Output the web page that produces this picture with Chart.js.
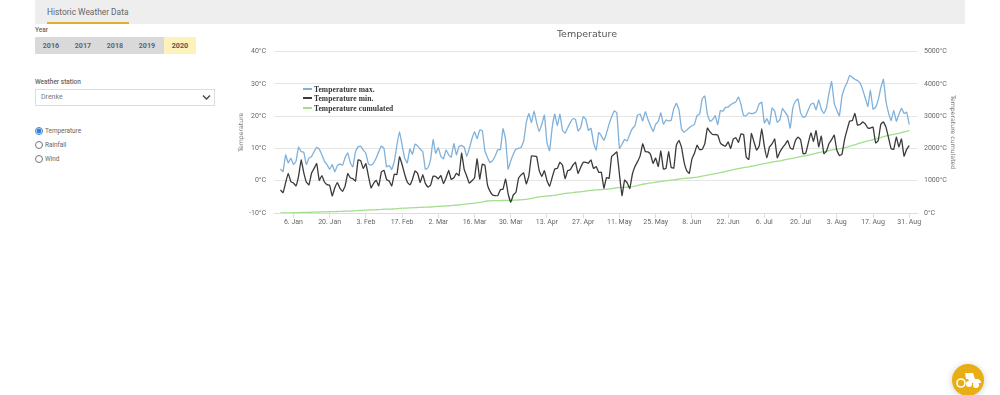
<!DOCTYPE html>
<html>
<head>
<meta charset="utf-8">
<title>Historic Weather Data</title>
<script src="https://cdn.jsdelivr.net/npm/chart.js@4"></script>
<style>
  html, body { margin: 0; padding: 0; background: #fff; overflow: hidden; }
  body { width: 1000px; height: 395px; position: relative; font-family: Roboto, sans-serif; color: #555; }
  #tabbar { position: absolute; left: 35px; top: 0; width: 930px; height: 24px; background: #eee; }
  #tab { position: absolute; left: 47px; top: 7px; font-size: 8.4px; color: #666; white-space: nowrap; }
  #tabline { position: absolute; left: 47px; top: 22px; width: 82px; height: 2px; background: #dcae32; }
  .label { position: absolute; left: 35px; font-size: 6.5px; font-weight: 500; color: #666; }
  #years { position: absolute; left: 35px; top: 37px; width: 161px; height: 16.5px; background: #d9d9d9; border-radius: 1px; }
  .year { position: absolute; top: 0; width: 32px; height: 16.5px; line-height: 17px; text-align: center; font-size: 7.2px; font-weight: 700; color: #666; }
  .year.on { background: #fbf3bb; color: #555; }
  #station { position: absolute; left: 35px; top: 89px; width: 178px; height: 15px; border: 1px solid #ddd; font-size: 7px; line-height: 15px; color: #777; text-indent: 5px; }
  #station svg { position: absolute; right: 3px; top: 4px; }
  .radio { position: absolute; left: 35px; width: 8px; height: 8px; margin: 0; accent-color: #2f80d8; }
  .radiotext { position: absolute; left: 45px; font-size: 6.4px; color: #666; }
  #chart { position: absolute; left: 0; top: 0; }
  #title { position: absolute; left: 487px; top: 28px; width: 200px; text-align: center; font-family: "DejaVu Sans", sans-serif; font-size: 9.5px; color: #555; }
  #legend { position: absolute; left: 298px; top: 84px; width: 96px; height: 29px; background: #fff; }
  .row { position: absolute; left: 5px; height: 9px; line-height: 9px; font-family: "Liberation Serif", serif; font-size: 7.5px; font-weight: 700; letter-spacing: 0.1px; color: #333; white-space: nowrap; }
  .row i { display: inline-block; width: 9px; height: 2px; margin-right: 2px; vertical-align: 2px; }
  #fab { position: absolute; left: 952px; top: 364px; overflow: visible; filter: drop-shadow(0 1px 3px rgba(0,0,0,.2)); }
</style>
</head>
<body>
<div id="tabbar"></div>
<div id="tab">Historic Weather Data</div>
<div id="tabline"></div>

<div class="label" style="top:26px">Year</div>
<div id="years"></div>

<div class="label" style="top:78px">Weather station</div>
<div id="station">Drenke
  <svg width="9" height="7" viewBox="0 0 9 7"><path d="M1 1.5 L4.5 5 L8 1.5" fill="none" stroke="#444" stroke-width="1.3"/></svg>
</div>

<input class="radio" type="radio" name="kind" style="top:127px" checked>
<div class="radiotext" style="top:127px">Temperature</div>
<input class="radio" type="radio" name="kind" style="top:141px">
<div class="radiotext" style="top:141px">Rainfall</div>
<input class="radio" type="radio" name="kind" style="top:155px">
<div class="radiotext" style="top:155px">Wind</div>

<canvas id="chart" width="1000" height="395"></canvas>
<div id="title">Temperature</div>
<div id="legend"></div>

<svg id="fab" width="34" height="34" viewBox="0 0 34 34">
  <circle cx="16" cy="16" r="16" fill="#e8ae14"/>
  <path d="M13 9 H21 L23 15 H26 Q29 16 29 19 H18 L16 15 H14 Z" fill="#fff"/>
  <circle cx="9" cy="19" r="4" fill="none" stroke="#fff" stroke-width="1.6"/>
  <circle cx="24" cy="21" r="3" fill="#fff"/>
  <circle cx="17" cy="20" r="3" fill="#fff"/>
</svg>

<script>
const years = ["2016", "2017", "2018", "2019", "2020"];
const selectedYear = "2020";

// day number counted from 1 Jan, tick labels are every second Monday
const tickDays = [5, 19, 33, 47, 61, 75, 89, 103, 117, 131, 145, 159, 173, 187, 201, 215, 229, 243];
const tickLabels = ["6. Jan", "20. Jan", "3. Feb", "17. Feb", "2. Mar", "16. Mar", "30. Mar", "13. Apr", "27. Apr", "11. May", "25. May", "8. Jun", "22. Jun", "6. Jul", "20. Jul", "3. Aug", "17. Aug", "31. Aug"];

const seriesNames = ["Temperature max.", "Temperature min.", "Temperature cumulated"];
const seriesColors = ["#7fb1db", "#3a3a3a", "#a3df8e"];

const tempMax = [
  3.6, 2.8, 8, 5.5, 7, 5, 6, 10.4, 9, 8.8,
  5, 7, 7.5, 9, 10.3, 9.8, 8, 6, 5, 3.5,
  5, 2.7, 4.7, 5.2, 4.8, 7.2, 8.6, 5.5, 4.3, 9,
  10.5, 10.7, 9.5, 8.5, 5.2, 4.8, 5.5, 7, 9, 10.7,
  10, 4.3, 4.7, 3.5, 6, 11, 15.2, 11, 7, 5.5,
  9.8, 8.2, 11.3, 10.8, 9.8, 9, 3.5, 4, 6.5, 12.7,
  8.5, 10.2, 7.5, 6.8, 9.5, 8, 7.3, 11.5, 8, 10.6,
  10.9, 10.4, 7.5, 10, 13, 15.2, 13, 15.7, 15.5, 9.3,
  7.2, 5.6, 6.2, 7.7, 9.6, 9.6, 16.1, 12.8, 3.6, 6.2,
  8.2, 9.8, 10, 10.3, 12.3, 18, 20.8, 18, 21.6, 18,
  15.2, 17.5, 20.3, 11.8, 9.3, 16.4, 20.6, 17, 20.6, 15.6,
  14.7, 16.4, 18, 19.2, 19, 15.4, 16.4, 19.8, 19, 15.6,
  16.2, 11.8, 9.5, 14.9, 13.9, 12.5, 14.7, 17.5, 19.8, 21.6,
  21, 10, 11.3, 12.8, 12.3, 14.4, 16.1, 17, 20.3, 20.6,
  18.5, 21.4, 19, 17, 15.2, 17.5, 18.3, 21, 17.5, 18.8,
  18.5, 18.7, 22.3, 24, 22, 16, 15, 15.7, 16.4, 17,
  17.5, 20.2, 20.6, 25.4, 26.2, 20.5, 18.4, 18.9, 20.1, 17.4,
  21.7, 21.5, 22.7, 22.8, 23.5, 24, 24.4, 25.9, 23.5, 20.1,
  20.1, 21, 20.8, 20.9, 21.5, 23.8, 24.3, 17.9, 19.2, 17.4,
  22.5, 21.5, 18.1, 18.9, 22.3, 21.2, 20.1, 16.3, 22.5, 24.6,
  25.3, 21, 19.6, 20, 22, 23.7, 24, 22, 25, 22.2,
  20.8, 22.5, 27.1, 30.7, 24, 21.8, 20.1, 26.1, 28.7, 30.4,
  32.6, 32, 31.4, 31, 30.2, 28.2, 25.6, 23, 28, 22.2,
  22.7, 25, 28.7, 31.4, 24.6, 21, 18.6, 21.8, 18.4, 20.5,
  22.5, 20.8, 21.2, 17.4
];

const tempMin = [
  -2.9, -3.7, -0.6, 2.3, -0.3, -0.7, -1.6, 1.4, 6.4, 2.5,
  -0.4, -1.3, 2.3, 3.8, 5.3, 0.1, 1.6, -0.4, -1.2, -1.4,
  -4.7, -2.2, -0.6, -2.4, -3.3, -1.6, 2.2, 0.9, 0.6, -0.1,
  6.4, 6.2, 3.8, 5.3, 1.4, -2.2, -0.8, 0.1, -1.6, 2.7,
  3.2, 0.4, -0.1, -1.6, 2, 1.9, 7.4, 5, 2, -0.4,
  -1.3, 0.4, 3, 2.3, -0.6, 1.9, -0.9, -2, -1.4, 1.4,
  1.3, 0.6, 1.6, -0.9, 0.9, 3.2, 0.4, 0.9, 2.3, 1.6,
  8.5, 3.5, 1.4, -0.8, 0, 0.9, 6.8, 0.5, 5.1, 4.8,
  -1.3, -3.3, -4.4, -4.6, -4.6, -2.8, -2.6, 0.5, -4.1, -6.7,
  -4.4, -3.6, 0.7, 1.8, 2.4, -1, 1.5, 7.7, 7.6, 7.5,
  3.1, 1.3, 3.1, 0, -1.7, 1, 3.6, 3.8, 5.7, 4.8,
  0.7, 3.1, 3.4, 4.8, 5.7, 2.3, 4.1, 5.7, 5.7, 5.4,
  6.4, 3.8, 4.4, 2.6, 2.6, -2.3, 1, 0.7, 7.5, 8.2,
  8.9, 2, -4.6, 0.2, -0.7, -2.4, 2, 4.4, 5.9, 7.7,
  11.4, 9, 8.9, 8.2, 5.4, 7, 4.4, 9.2, 3.6, 3.8,
  9, 4.1, 3.9, 11, 12.5, 10.3, 5.7, 3.1, 2.3, 6.7,
  8.5, 11, 9.6, 9.7, 11.5, 16.3, 15.1, 14.3, 14.3, 14.1,
  11.7, 11, 10.7, 12, 10, 12.9, 13.3, 11.9, 14.5, 14.3,
  7.3, 6.6, 14.6, 12, 9.5, 10.7, 16.1, 10.7, 7.1, 10.5,
  11.4, 12.9, 7.1, 8.9, 10.2, 11.2, 12.4, 10.2, 9.7, 12.4,
  13.5, 12.7, 8.3, 8.5, 11.7, 14.8, 12.2, 15.5, 10.5, 13.8,
  8.4, 9.1, 11.5, 12.7, 14.1, 9.5, 7.8, 8.2, 12.7, 15.8,
  18.5, 18.6, 20.8, 17.2, 17.4, 18.2, 17.6, 16.3, 16.3, 16.6,
  11.7, 12.4, 17.4, 18.2, 16.6, 13.3, 9.9, 9.7, 13.5, 10.5,
  12.9, 7.6, 9.7, 10.9
];

const tempCumulated = [
  0, 1, 3, 5, 6, 8, 10, 12, 15, 18,
  20, 21, 23, 26, 29, 31, 33, 35, 37, 39,
  42, 44, 47, 50, 53, 55, 58, 61, 64, 68,
  74, 80, 84, 89, 92, 94, 97, 100, 104, 110,
  116, 119, 121, 122, 125, 131, 141, 148, 152, 154,
  158, 161, 166, 171, 175, 178, 180, 182, 186, 192,
  200, 205, 210, 214, 219, 225, 231, 237, 244, 252,
  262, 272, 280, 288, 296, 305, 318, 328, 345, 360,
  372, 378, 381, 383, 385, 386, 387, 389, 391, 393,
  395, 398, 402, 407, 415, 425, 437, 450, 468, 485,
  500, 510, 520, 525, 530, 538, 548, 560, 578, 595,
  605, 612, 620, 630, 642, 650, 658, 668, 680, 690,
  700, 708, 714, 720, 726, 730, 735, 745, 756, 768,
  780, 790, 793, 796, 798, 805, 815, 830, 850, 870,
  890, 905, 920, 930, 942, 955, 965, 975, 990, 1000,
  1005, 1015, 1025, 1037, 1052, 1065, 1072, 1078, 1084, 1092,
  1100, 1110, 1125, 1140, 1155, 1172, 1188, 1205, 1220, 1235,
  1252, 1268, 1285, 1302, 1320, 1340, 1358, 1375, 1392, 1405,
  1417, 1430, 1447, 1462, 1478, 1495, 1515, 1530, 1542, 1558,
  1574, 1590, 1602, 1615, 1632, 1650, 1668, 1680, 1692, 1712,
  1733, 1748, 1760, 1772, 1790, 1810, 1828, 1848, 1868, 1885,
  1898, 1912, 1928, 1945, 1965, 1978, 1990, 2000, 2018, 2040,
  2065, 2090, 2115, 2140, 2165, 2190, 2212, 2232, 2252, 2275,
  2297, 2315, 2337, 2362, 2385, 2405, 2420, 2432, 2450, 2465,
  2490, 2510, 2530, 2550
];

// year buttons
years.forEach((year, i) => {
  const el = document.createElement("div");
  el.className = "year" + (year === selectedYear ? " on" : "");
  el.style.left = (i * 32 + (i === 4 ? 1 : 0)) + "px";
  el.textContent = year;
  document.getElementById("years").appendChild(el);
});

// legend sits over the plot so it is built by hand
const rowTops = [1, 10, 20];
seriesNames.forEach((name, i) => {
  const row = document.createElement("div");
  row.className = "row";
  row.style.top = rowTops[i] + "px";
  row.innerHTML = '<i style="background:' + seriesColors[i] + '"></i>' + name;
  document.getElementById("legend").appendChild(row);
});

function toPoints(values) {
  return values.map((v, i) => ({ x: i, y: v }));
}

const tickFont = { family: "Roboto", size: 7 };
const titleFont = { family: "DejaVu Sans", size: 6.2 };

new Chart(document.getElementById("chart"), {
  type: "line",
  data: {
    datasets: [
      { label: seriesNames[0], data: toPoints(tempMax), yAxisID: "y", borderColor: seriesColors[0] },
      { label: seriesNames[1], data: toPoints(tempMin), yAxisID: "y", borderColor: seriesColors[1] },
      { label: seriesNames[2], data: toPoints(tempCumulated), yAxisID: "y1", borderColor: seriesColors[2] }
    ]
  },
  options: {
    responsive: false,
    animation: false,
    layout: { padding: { left: 238, right: 44, top: 51.5, bottom: 162 } },
    elements: {
      point: { radius: 0 },
      line: { borderWidth: 1.3, tension: 0.1 }
    },
    plugins: {
      legend: { display: false },
      title: { display: false },
      tooltip: { enabled: false }
    },
    scales: {
      x: {
        type: "linear",
        min: -2.5,
        max: 246,
        afterBuildTicks: axis => { axis.ticks = tickDays.map(d => ({ value: d })); },
        afterFit: axis => { axis.height = 20; },
        grid: { drawOnChartArea: false, drawTicks: true, tickLength: 5, color: "#d8dde6" },
        border: { color: "#d8dde6" },
        ticks: {
          autoSkip: false,
          maxRotation: 0,
          padding: 0,
          color: "#666",
          font: tickFont,
          callback: value => tickLabels[tickDays.indexOf(value)]
        }
      },
      y: {
        position: "left",
        min: -10,
        max: 40,
        afterFit: axis => { axis.width = 36; },
        grid: { color: "#e6e6e6", drawTicks: false },
        border: { display: false },
        title: { display: true, text: "Temperature", color: "#777", padding: 0, font: titleFont },
        ticks: {
          stepSize: 10,
          padding: 8,
          color: "#666",
          font: tickFont,
          callback: value => value + "°C"
        }
      },
      y1: {
        position: "right",
        min: 0,
        max: 5000,
        afterFit: axis => { axis.width = 39; },
        grid: { drawOnChartArea: false, drawTicks: false },
        border: { display: false },
        title: { display: true, text: "Temperature cumulated", color: "#777", padding: 0, font: titleFont },
        ticks: {
          stepSize: 1000,
          padding: 7,
          color: "#666",
          font: tickFont,
          callback: value => value + "°C"
        }
      }
    }
  }
});
</script>
</body>
</html>
